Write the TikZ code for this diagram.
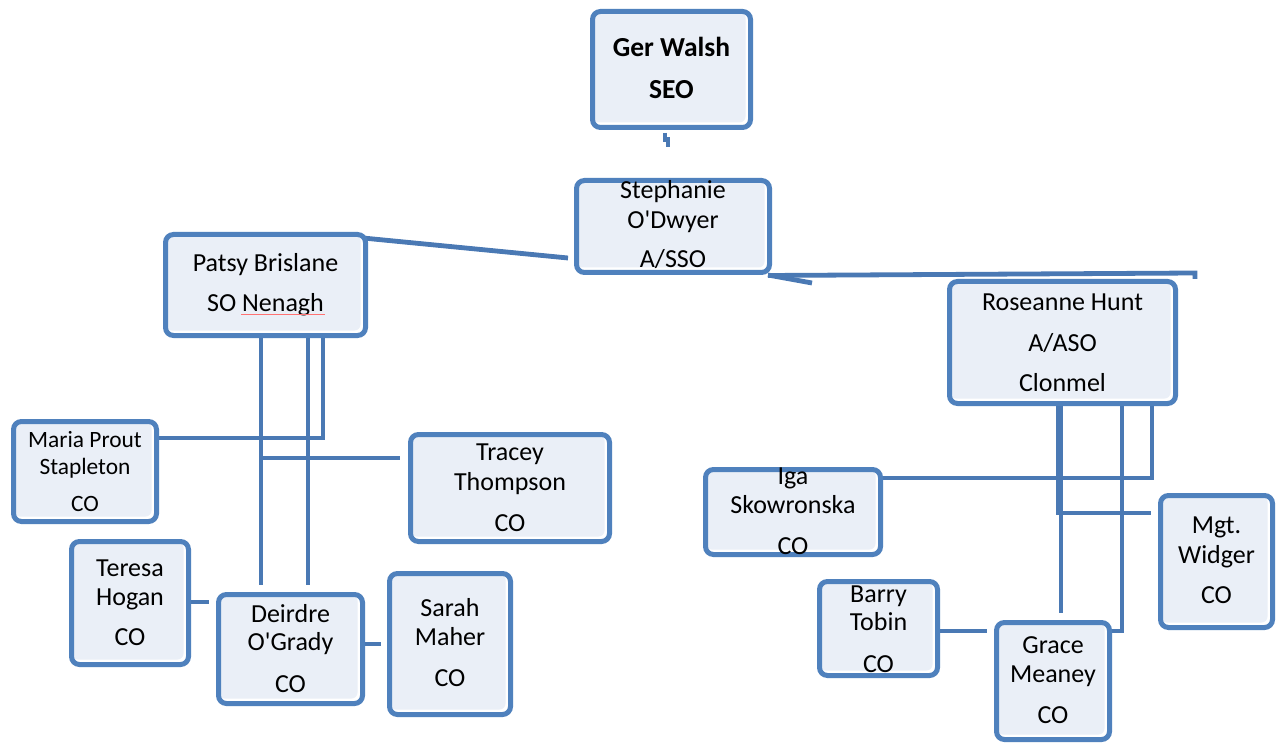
\documentclass[tikz,border=0pt]{standalone}
\usepackage{fontspec}
\setmainfont{Carlito}[Ligatures=TeXOff]
\usetikzlibrary{backgrounds}
\definecolor{boxline}{HTML}{4F81BD}
\definecolor{linkblue}{HTML}{4A79B4}
\definecolor{boxfill}{HTML}{EAEFF7}

% one unit box: name, left, top, right, bottom (outer edges of the border)
\newcommand{\unitbox}[5]{%
  \node[orgbox, minimum width={#4-#2-5}, minimum height={#5-#3-5}]
    (#1) at ({(#2+#4)/2},{(#3+#5)/2}) {};}
% one line of text in a box: box name, baseline, text
\newcommand{\unitline}[3]{\node[txt] at (#1.center |- 0,#2) {#3};}

\begin{document}
\begin{tikzpicture}[x=1pt,y=-1pt,
  orgbox/.style={draw=boxline, line width=5pt, rounded corners=8pt,
    fill=white, inner sep=0pt,
    path picture={\fill[boxfill, rounded corners=6pt]
      (path picture bounding box.north west) rectangle
      ([xshift=-5pt,yshift=5pt]path picture bounding box.south east);}},
  txt/.style={anchor=base, inner sep=0pt, font=\fontsize{26}{31}\selectfont},
  smalltxt/.style={txt, font=\fontsize{23.4}{28}\selectfont},
  headtxt/.style={txt, font=\bfseries\fontsize{27.5}{33}\selectfont},
  link/.style={draw=linkblue, line width=4.8pt}]

\useasboundingbox (0,0) rectangle (1285,743);

% ---- boxes ----
\unitbox{G}{590}{9}{753}{130}
\unitbox{S}{574}{178}{772}{275}
\unitbox{P}{163}{232}{368}{338}
\unitbox{R}{947}{279}{1178}{406}
\unitbox{M}{11}{419}{159}{524}
\unitbox{T}{408}{432}{612}{544}
\unitbox{Te}{69}{539}{191}{667}
\unitbox{D}{216}{592}{365}{706}
\unitbox{Sa}{387}{571}{513}{717}
\unitbox{I}{703}{467}{883}{557}
\unitbox{W}{1158}{493}{1275}{630}
\unitbox{B}{817}{579}{940}{678}
\unitbox{Gr}{994}{620}{1112}{742}

% ---- texts ----
\node[headtxt] at (G.center |- 0,57) {Ger Walsh};
\node[headtxt] at (G.center |- 0,99) {SEO};

\unitline{S}{199}{Stephanie}
\unitline{S}{229}{O'Dwyer}
\unitline{S}{268}{A/SSO}

\unitline{P}{272}{Patsy Brislane}
\node[txt] (nen) at (P.center |- 0,312) {SO Nenagh};
\draw[red!55, line width=0.8pt] (241,314.5) -- (325,314.5);

\unitline{R}{311}{Roseanne Hunt}
\unitline{R}{352}{A/ASO}
\unitline{R}{391}{Clonmel}

\node[smalltxt] at (M.center |- 0,447) {Maria Prout};
\node[smalltxt] at (M.center |- 0,474) {Stapleton};
\node[smalltxt] at (M.center |- 0,511) {CO};

\unitline{T}{460}{Tracey}
\unitline{T}{490}{Thompson}
\unitline{T}{531}{CO}

\unitline{Te}{576}{Teresa}
\unitline{Te}{605}{Hogan}
\unitline{Te}{645}{CO}

\unitline{D}{622}{Deirdre}
\unitline{D}{650}{O'Grady}
\unitline{D}{692}{CO}

\unitline{Sa}{616}{Sarah}
\unitline{Sa}{645}{Maher}
\unitline{Sa}{686}{CO}

\unitline{I}{484}{Iga}
\unitline{I}{513}{Skowronska}
\unitline{I}{554}{CO}

\unitline{W}{533}{Mgt.}
\unitline{W}{563}{Widger}
\unitline{W}{603}{CO}

\unitline{B}{602}{Barry}
\unitline{B}{630}{Tobin}
\unitline{B}{672}{CO}

\unitline{Gr}{653}{Grace}
\unitline{Gr}{682}{Meaney}
\unitline{Gr}{723}{CO}

% ---- connectors, drawn behind the boxes ----
\begin{scope}[on background layer]
  \fill[white] (0,0) rectangle (1285,743);

  % stub under the head box
  \coordinate (t1) at (665,133);
  \coordinate (t2) at (668,147);
  \draw[link] (t1) -- (t1 |- 0,139.5) -- (t2 |- 0,139.5) -- (t2);

  % second level
  \coordinate (pse) at (568,258);
  \draw[link] (363,238) -- (pse);
  \coordinate (rtop) at (1195,279);
  \draw[link] (S.south east) ++(-4,0.5) -- (rtop |- 0,273) -- (rtop);
  \coordinate (slant) at (812,283);
  \draw[link] (768,275) -- (slant);

  % Patsy Brislane's team
  \draw[link] (P.south -| 261,0) -- (261,585);
  \draw[link] (P.south -| 308,0) -- (308,585);
  \draw[link] (P.south -| 323,0) -- (323,438) -- (M.east |- 0,438);
  \coordinate (tl) at (400,458);
  \draw[link] (261,458) -- (tl);
  \coordinate (dl) at (209,602);
  \draw[link] (Te.east |- dl) -- (dl);
  \coordinate (dr) at (381,644);
  \draw[link] (D.east |- dr) -- (dr);

  % Roseanne Hunt's team
  \draw[link] (R.south -| 1058,0) -- (1058,513) -- (1151,513);
  \draw[link] (R.south -| 1061,0) -- (1061,613);
  \draw[link] (R.south -| 1122,0) -- (1122,631) -- (Gr.east |- 0,631);
  \draw[link] (R.south -| 1152,0) -- (1152,478) -- (I.east |- 0,478);
  \coordinate (bg) at (987,631);
  \draw[link] (B.east |- bg) -- (bg);
\end{scope}
\end{tikzpicture}
\end{document}
